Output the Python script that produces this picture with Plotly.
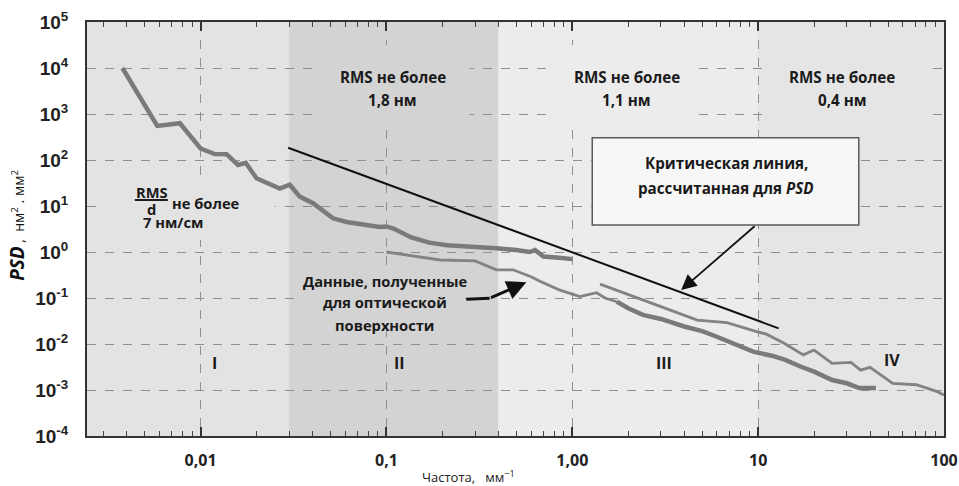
import math
import plotly.graph_objects as go

# ---------------- data ----------------
curve1_f = [0.0038, 0.00585, 0.00774, 0.01, 0.0119, 0.0138, 0.0159, 0.0175, 0.02, 0.0267,
            0.0302, 0.0342, 0.0403, 0.0516, 0.061, 0.075, 0.092, 0.1, 0.11, 0.135, 0.17,
            0.212, 0.3, 0.39, 0.5, 0.59, 0.63, 0.7, 0.85, 1.0]
curve1_y = [10000, 550, 630, 178, 135, 134, 78, 87, 40, 24,
            29, 16, 11.5, 5.4, 4.5, 4.0, 3.5, 3.6, 3.2, 2.1, 1.6,
            1.4, 1.3, 1.2, 1.1, 1.0, 1.1, 0.8, 0.75, 0.7]

curve2_f = [0.1, 0.195, 0.3, 0.39, 0.48, 0.6, 0.67, 0.85, 1.1, 1.35, 1.5, 1.74]
curve2_y = [1.0, 0.67, 0.64, 0.41, 0.41, 0.29, 0.23, 0.15, 0.107, 0.13, 0.1, 0.083]

curve3_f = [1.74, 2.0, 2.4, 3.0, 4.0, 5.0, 6.0, 7.5, 9.4, 12, 14, 17, 20, 25, 30, 35, 43]
curve3_y = [0.083, 0.06, 0.043, 0.035, 0.024, 0.019, 0.0144, 0.01, 0.0068, 0.0055, 0.0045,
            0.0032, 0.0025, 0.00165, 0.0014, 0.0011, 0.0011]

curve4_f = [1.41, 2.0, 3.0, 4.7, 6.8, 9.8, 11, 13.8, 17.5, 20, 25, 31.6, 35.6, 40, 53, 71, 92, 100]
curve4_y = [0.2, 0.12, 0.065, 0.033, 0.029, 0.0185, 0.0166, 0.0104, 0.0058, 0.0074, 0.0038,
            0.004, 0.0027, 0.0031, 0.0014, 0.0013, 0.00092, 0.00078]

critical_f = [0.0296, 12.9]
critical_y = [185, 0.0219]

region_bounds = [0.00245, 0.03, 0.4, 10, 100]
region_colors = ["#e3e3e3", "#d3d3d3", "#ececec", "#e5e5e5"]

x_tickvals = [0.01, 0.1, 1, 10, 100]
x_ticktext = ["0,01", "0,1", "1,00", "10", "100"]
y_exponents = [5, 4, 3, 2, 1, 0, -1, -2, -3, -4]

# ---------------- figure ----------------
L = math.log10
fig = go.Figure()

thick = dict(color="#7a7a7a", width=4.5)
thin = dict(color="#838383", width=2.8)

fig.add_trace(go.Scatter(x=curve1_f, y=curve1_y, mode="lines", line=thick))
fig.add_trace(go.Scatter(x=curve2_f, y=curve2_y, mode="lines", line=thin))
fig.add_trace(go.Scatter(x=curve3_f, y=curve3_y, mode="lines", line=thick))
fig.add_trace(go.Scatter(x=curve4_f, y=curve4_y, mode="lines", line=thin))
fig.add_trace(go.Scatter(x=critical_f, y=critical_y, mode="lines",
                         line=dict(color="#111111", width=2)))

# shaded frequency regions
for i, c in enumerate(region_colors):
    fig.add_shape(type="rect", xref="x", yref="paper",
                  x0=region_bounds[i], x1=region_bounds[i + 1], y0=0, y1=1,
                  fillcolor=c, line_width=0, layer="below")

# patches hiding the grid behind texts: (x0, x1, y0, y1, region index)
gaps = [(0.0438, 0.28, 705, 31600, 1),
        (0.803, 4.66, 705, 31600, 2),
        (11.5, 78.3, 705, 31600, 3),
        (0.00306, 0.0251, 1.82, 36.7, 0),
        (0.033, 0.257, 0.025, 0.406, 1)]
for x0, x1, y0, y1, ri in gaps:
    fig.add_shape(type="rect", xref="x", yref="y", x0=x0, x1=x1, y0=y0, y1=y1,
                  fillcolor=region_colors[ri], line_width=0, layer="between")

FONT = "Open Sans"

def note(xl, yl, text, size=14.7, **kw):
    fig.add_annotation(x=xl, y=yl, xref="x", yref="y", text=text, showarrow=False,
                       font=dict(family=FONT, size=size, color="#1a1a1a"), **kw)

# RMS texts (annotation positions are log10 values on log axes)
for xl, val in [(-0.966, "1,8 нм"), (0.292, "1,1 нм"), (1.453, "0,4 нм")]:
    note(xl, 3.804, "<b>RMS не более</b>", size=15.2)
    note(xl, 3.304, f"<b>{val}</b>", size=15.2)

# RMS/d text
note(-2.263, 1.304, "<b>RMS</b>")
note(-2.263, 0.935, "<b>d</b>")
fig.add_shape(type="line", xref="x", yref="y", x0=0.00443, x1=0.00667, y0=13.5, y1=13.5,
              line=dict(color="#1a1a1a", width=2))
note(-1.968, 1.065, "<b>не более</b>")
note(-2.149, 0.652, "<b>7 нм/см</b>")

# Data text
note(-1.009, -0.624, "<b>Данные, полученные</b>")
note(-1.009, -1.080, "<b>для оптической</b>")
note(-1.009, -1.587, "<b>поверхности</b>")

# Roman numerals
note(-1.923, -2.413, "<b>I</b>", size=16)
note(-0.929, -2.413, "<b>II</b>", size=16)
note(0.496, -2.413, "<b>III</b>", size=16)
note(1.722, -2.348, "<b>IV</b>", size=16)

# Critical line box
fig.add_shape(type="rect", xref="x", yref="y", x0=1.281, x1=34.8, y0=3.86, y1=305,
              fillcolor="#f7f7f7", line=dict(color="#5a5a5a", width=1.5), layer="above")
note(0.828, 1.935, "<b>Критическая линия,</b>", size=15.2)
note(0.828, 1.391, "<b>рассчитанная для <i>PSD</i></b>", size=15.2)

# arrows
fig.add_annotation(x=0.586, y=-0.826, ax=0.989, ay=0.587, xref="x", yref="y",
                   axref="x", ayref="y", showarrow=True, arrowhead=2, arrowsize=1.7,
                   arrowwidth=1.8, arrowcolor="#111111", text="")
fig.add_shape(type="line", xref="x", yref="y", x0=0.269, x1=0.359, y0=0.0938, y1=0.0984,
              line=dict(color="#111111", width=3))
fig.add_annotation(x=-0.247, y=-0.659, ax=-0.445, ay=-1.007, xref="x", yref="y",
                   axref="x", ayref="y", showarrow=True, arrowhead=2, arrowsize=1.3,
                   arrowwidth=3, arrowcolor="#111111", text="")

# x title
fig.add_annotation(xref="paper", yref="paper", x=0.4446, y=-0.099, yanchor="middle",
                   text="Частота,   мм<sup>−1</sup>", showarrow=False,
                   font=dict(family=FONT, size=13, color="#222222"))

# y title
fig.add_annotation(xref="paper", yref="paper", x=-0.0817, y=0.51, textangle=-90,
                   showarrow=False, xanchor="center", yanchor="middle",
                   text="<b><i>PSD</i></b><span style='font-size:14px'> ,  нм<sup>2</sup> . мм<sup>2</sup></span>",
                   font=dict(family=FONT, size=19, color="#111111"))

fig.update_xaxes(type="log", range=[L(0.00245), 2], automargin=False,
                 tickvals=x_tickvals, ticktext=[f"<b>{t}</b>" for t in x_ticktext],
                 tickfont=dict(family=FONT, size=16, color="#222222"),
                 ticks="inside", ticklen=9, tickwidth=2, tickcolor="#333333",
                 ticklabelstandoff=9,
                 minor=dict(ticks="inside", ticklen=5, tickwidth=1, tickcolor="#444444",
                            dtick="D1", showgrid=False),
                 showgrid=True, gridcolor="#8f8f8f", griddash="dash", gridwidth=1,
                 showline=True, linecolor="#333333", linewidth=2, mirror="allticks",
                 zeroline=False)

fig.update_yaxes(type="log", range=[-4, 5], automargin=False,
                 tickvals=[10 ** e for e in y_exponents],
                 ticktext=[f"<b>10<sup>{e}</sup></b>" for e in y_exponents],
                 tickfont=dict(family="Liberation Sans", size=19, color="#222222"),
                 ticks="", ticklabelstandoff=13,
                 showgrid=True, gridcolor="#8f8f8f", griddash="dash", gridwidth=1,
                 showline=True, linecolor="#333333", linewidth=2, mirror=True,
                 zeroline=False)

fig.update_layout(width=959, height=486, showlegend=False,
                  paper_bgcolor="white", plot_bgcolor="#e5e5e5",
                  margin=dict(l=87, r=15, t=22, b=50))

# remove the default page margin so the figure fills the window exactly
fig.write_html("out.html", config={"displayModeBar": False},
               post_script="document.body.style.margin='0';document.body.style.overflow='hidden';")
